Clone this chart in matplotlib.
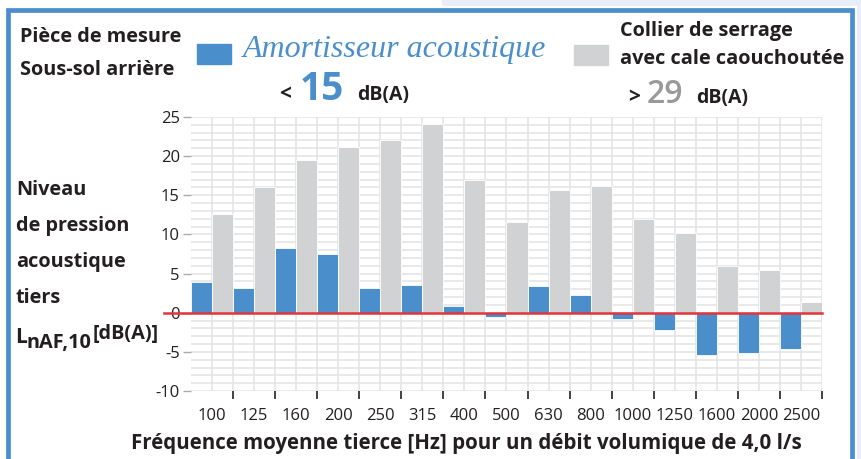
import numpy as np
import matplotlib.pyplot as plt
from matplotlib.patches import Rectangle

plt.rcParams['font.family'] = ['Open Sans', 'DejaVu Sans']
plt.rcParams['axes.unicode_minus'] = False

# tiers d'octave (Hz)
freqs = ["100", "125", "160", "200", "250", "315", "400", "500",
         "630", "800", "1000", "1250", "1600", "2000", "2500"]
amortisseur = [3.9, 3.1, 8.3, 7.5, 3.2, 3.5, 0.8, -0.6,
               3.4, 2.3, -0.8, -2.2, -5.4, -5.2, -4.6]
collier = [12.6, 16.1, 19.5, 21.2, 22.1, 24.1, 16.9, 11.6,
           15.7, 16.2, 12.0, 10.2, 6.0, 5.4, 1.4]

BLUE = '#4a8fcc'
GREY = '#d1d2d4'
DARK = '#231f20'
W, H = 862, 459


def fx(x):
    return x / W


def fy(y):
    return 1 - y / H


fig = plt.figure(figsize=(8.62, 4.59), dpi=100)
fig.patch.set_facecolor('white')

# page background outside the frame
fig.add_artist(Rectangle((fx(442), fy(6)), 1, 1, transform=fig.transFigure,
                         facecolor='#e8eef7', edgecolor='none', zorder=0))
fig.add_artist(Rectangle((fx(857), 0), 1, 1, transform=fig.transFigure,
                         facecolor='#e8eef7', edgecolor='none', zorder=0))
fig.add_artist(Rectangle((fx(8), fy(500)), fx(844), (500 - 10) / H,
                         transform=fig.transFigure, facecolor='white',
                         edgecolor='#4a8fcc', lw=3.4, zorder=1))

ax = fig.add_axes([fx(191), fy(391), fx(822 - 191), (391 - 117) / H])
ax.set_zorder(2)
x = np.arange(len(freqs))
ax.bar(x - 0.25, amortisseur, width=0.5, color=BLUE, edgecolor='white',
       linewidth=0.6, zorder=3)
ax.bar(x + 0.25, collier, width=0.5, color=GREY, edgecolor='white',
       linewidth=0.6, zorder=3)

ax.set_xlim(-0.5, len(freqs) - 0.5)
ax.set_ylim(-10, 25)
ax.set_xticks(x)
ax.set_xticklabels(freqs)
ax.set_xticks(np.arange(0.5, len(freqs)), minor=True)
ax.set_yticks(np.arange(-10, 26, 5))
ax.set_yticks(np.arange(-10, 26, 1), minor=True)
ax.tick_params(axis='x', which='major', length=0, pad=12, labelsize=12,
               labelcolor=DARK)
ax.tick_params(axis='x', which='minor', length=6, width=1.3, color='#333333',
               pad=0)
ax.tick_params(axis='y', which='major', length=6, width=1, color='#aaaaaa',
               labelsize=12, labelcolor=DARK, pad=2)
ax.tick_params(axis='y', which='minor', length=0)
ax.grid(True, which='both', color='#e3e3e3', lw=1.1, zorder=0)
ax.set_axisbelow(True)
for s in ax.spines.values():
    s.set_visible(False)
ax.axhline(0, xmin=-0.043, xmax=1, color='#e3343c', lw=1.8, zorder=4,
           clip_on=False)

# header
bold = dict(fontweight='bold', color=DARK, fontsize=14.3, va='center')
fig.text(fx(20), fy(37), "Pièce de mesure", **bold)
fig.text(fx(20), fy(70), "Sous-sol arrière", **bold)
fig.add_artist(Rectangle((fx(197), fy(64)), fx(34), 20 / H,
                         transform=fig.transFigure, color=BLUE))
fig.text(fx(243), fy(50), "Amortisseur acoustique", fontsize=23,
         style='italic', family='Liberation Serif', color=BLUE, va='center')
fig.text(fx(279), fy(100), "<", fontsize=15, fontweight='bold', color=DARK,
         va='baseline')
fig.text(fx(300), fy(100), "15", fontsize=28, fontweight='bold', color=BLUE,
         va='baseline')
fig.text(fx(357), fy(100), "dB(A)", fontsize=14, fontweight='bold',
         color=DARK, va='baseline')

fig.add_artist(Rectangle((fx(574), fy(65)), fx(34), 20 / H,
                         transform=fig.transFigure, color=GREY))
fig.text(fx(620), fy(31), "Collier de serrage", **bold)
fig.text(fx(620), fy(59), "avec cale caouchoutée", **bold)
fig.text(fx(628), fy(103), ">", fontsize=15, fontweight='bold', color=DARK,
         va='baseline')
fig.text(fx(647), fy(103), "29", fontsize=23, fontweight='semibold',
         color='#999999', va='baseline')
fig.text(fx(696), fy(103), "dB(A)", fontsize=14, fontweight='bold',
         color=DARK, va='baseline')

# y label
for txt, yy in [("Niveau", 190), ("de pression", 226), ("acoustique", 262),
                ("tiers", 298)]:
    fig.text(fx(16), fy(yy), txt, **bold)
fig.text(fx(15), fy(343), "L", fontsize=15, fontweight='bold', color=DARK,
         va='baseline')
fig.text(fx(27), fy(348), "nAF,10", fontsize=14.3, fontweight='bold',
         color=DARK, va='baseline')
fig.text(fx(93), fy(339), "[dB(A)]", fontsize=14.3, fontweight='bold',
         color=DARK, va='baseline')

fig.text(fx(466), fy(444),
         "Fréquence moyenne tierce [Hz] pour un débit volumique de 4,0 l/s",
         fontsize=14.8, fontweight='bold', color=DARK, ha='center',
         va='center')

fig.savefig('out.png', dpi=100)
